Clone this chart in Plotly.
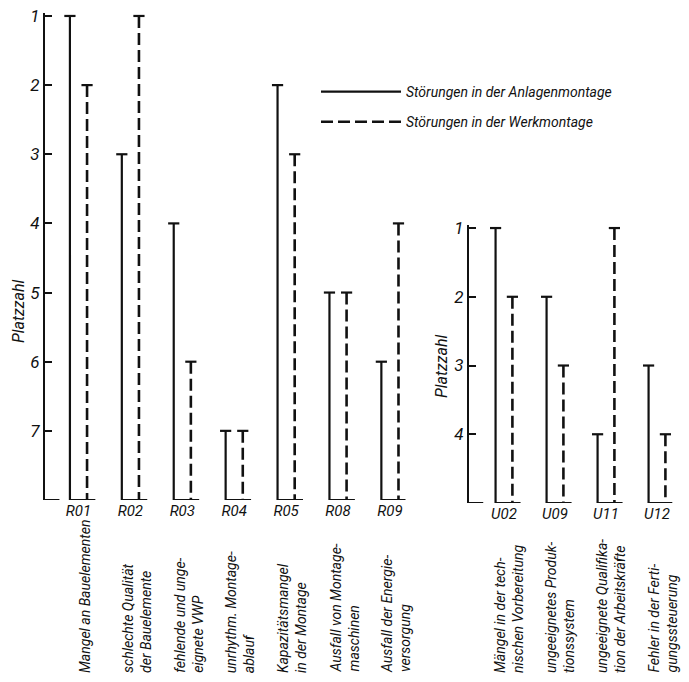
import plotly.graph_objects as go

# ---------------- data ----------------
cats_R = ["R01", "R02", "R03", "R04", "R05", "R08", "R09"]
anlagen_R = [1, 3, 4, 7, 2, 5, 6]      # Störungen in der Anlagenmontage (Platzzahl)
werk_R = [2, 1, 6, 7, 3, 5, 4]         # Störungen in der Werkmontage (Platzzahl)
labels_R = [
    "Mangel an Bauelementen",
    "schlechte Qualität<br>der Bauelemente",
    "fehlende und unge-<br>eignete VWP",
    "unrhythm. Montage-<br>ablauf",
    "Kapazitätsmangel<br>in der Montage",
    "Ausfall von Montage-<br>maschinen",
    "Ausfall der Energie-<br>versorgung",
]
ticks_R = [1, 2, 3, 4, 5, 6, 7]

cats_U = ["U02", "U09", "U11", "U12"]
anlagen_U = [1, 2, 4, 3]
werk_U = [2, 3, 1, 4]
labels_U = [
    "Mängel in der tech-<br>nischen Vorbereitung",
    "ungeeignetes Produk-<br>tionssystem",
    "ungeeignete Qualifika-<br>tion der Arbeitskräfte",
    "Fehler in der Ferti-<br>gungssteuerung",
]
ticks_U = [1, 2, 3, 4]

name_A = "Störungen in der Anlagenmontage"
name_W = "Störungen in der Werkmontage"

# ---------------- style ----------------
FONT = "Roboto, Liberation Sans, sans-serif"
INK = "#111111"
OFF = 0.165     # half distance between the pair of lines
EXT = 0.16      # extension of the base stroke beyond the dashed line
W, H = 689, 682


def py(px):
    return 1 - px / H


def px_(x):
    return x / W


fig = go.Figure()


def add_panel(cats, a_vals, w_vals, base, xa, ya, show_legend):
    xs_s, ys_s, xs_d, ys_d = [], [], [], []
    for i, (a, w) in enumerate(zip(a_vals, w_vals)):
        xs_s += [i - OFF, i - OFF, i + OFF + EXT, None]
        ys_s += [a, base, base, None]
        xs_d += [i + OFF, i + OFF, None]
        ys_d += [w, base, None]
    fig.add_trace(go.Scatter(
        x=xs_s, y=ys_s, mode="lines", name=name_A, xaxis=xa, yaxis=ya,
        line=dict(color=INK, width=2.2), cliponaxis=False,
        showlegend=show_legend, legendgroup="A", hoverinfo="skip"))
    fig.add_trace(go.Scatter(
        x=xs_d, y=ys_d, mode="lines", name=name_W, xaxis=xa, yaxis=ya,
        line=dict(color=INK, width=2.6, dash="12px,5px"), cliponaxis=False,
        showlegend=show_legend, legendgroup="W", hoverinfo="skip"))
    # T-caps on top of each line
    fig.add_trace(go.Scatter(
        x=[i - OFF for i in range(len(cats))] + [i + OFF for i in range(len(cats))],
        y=list(a_vals) + list(w_vals), mode="markers", xaxis=xa, yaxis=ya,
        marker=dict(symbol="line-ew", size=8, line=dict(color=INK, width=2.2)),
        cliponaxis=False, showlegend=False, hoverinfo="skip"))


base_R = max(ticks_R) + 1
base_U = max(ticks_U) + 1

add_panel(cats_R, anlagen_R, werk_R, base_R, "x", "y", True)
add_panel(cats_U, anlagen_U, werk_U, base_U, "x2", "y2", False)

xaxis_common = dict(showgrid=False, zeroline=False, showline=False, ticks="",
                    automargin=False,
                    tickfont=dict(family=FONT, size=15, color=INK, style="italic"))
yaxis_common = dict(showgrid=False, zeroline=False, showline=True, linecolor=INK,
                    linewidth=2, ticks="inside", ticklen=7, tickwidth=2, tickcolor=INK,
                    automargin=False,
                    tickfont=dict(family=FONT, size=17, color=INK, style="italic"))

fig.update_layout(
    width=W, height=H,
    margin=dict(l=0, r=0, t=0, b=0, autoexpand=False),
    paper_bgcolor="white", plot_bgcolor="white",
    xaxis=dict(**xaxis_common, domain=[px_(45), px_(405.5)], range=[-0.645, len(cats_R) - 0.7],
               tickvals=list(range(len(cats_R))), ticktext=cats_R, anchor="y"),
    yaxis=dict(**yaxis_common, domain=[py(500), py(12.5)], range=[base_R, 0.95],
               tickvals=ticks_R, anchor="x"),
    xaxis2=dict(**xaxis_common, domain=[px_(469), px_(672.3)], range=[-0.686, len(cats_U) - 0.7],
                tickvals=list(range(len(cats_U))), ticktext=cats_U, anchor="y2"),
    yaxis2=dict(**yaxis_common, domain=[py(503), py(224.6)], range=[base_U, 0.95],
                tickvals=ticks_U, anchor="x2"),
    legend=dict(x=px_(316), y=py(76), xanchor="left", yanchor="top",
                itemwidth=80, traceorder="grouped", tracegroupgap=9,
                font=dict(family=FONT, size=14, color=INK, style="italic"),
                bgcolor="rgba(0,0,0,0)"),
    showlegend=True,
)

# short base stubs at the bottom of each value axis
fig.add_shape(type="line", xref="x domain", yref="y", x0=0, x1=0.04, y0=base_R, y1=base_R,
              line=dict(color=INK, width=2))
fig.add_shape(type="line", xref="x2 domain", yref="y2", x0=0, x1=0.07, y0=base_U, y1=base_U,
              line=dict(color=INK, width=2))

# axis titles
fig.add_annotation(text="Platzzahl", textangle=-90, xref="paper", yref="paper",
                   x=px_(18), y=py(312), xanchor="center", yanchor="middle", showarrow=False,
                   font=dict(family=FONT, size=16, color=INK, style="italic"))
fig.add_annotation(text="Platzzahl", textangle=-90, xref="paper", yref="paper",
                   x=px_(441), y=py(367), xanchor="center", yanchor="middle", showarrow=False,
                   font=dict(family=FONT, size=16, color=INK, style="italic"))

# rotated category descriptions
for i, t in enumerate(labels_R):
    fig.add_annotation(text=t, textangle=-90, xref="x", yref="paper", x=i, y=py(675),
                       xanchor="center", yanchor="bottom", align="left", xshift=6,
                       showarrow=False,
                       font=dict(family=FONT, size=14, color=INK, style="italic"))
for i, t in enumerate(labels_U):
    fig.add_annotation(text=t, textangle=-90, xref="x2", yref="paper", x=i, y=py(675),
                       xanchor="center", yanchor="bottom", align="left", xshift=5,
                       showarrow=False,
                       font=dict(family=FONT, size=14, color=INK, style="italic"))

fig.write_html("out.html",
               config={"displayModeBar": False},
               post_script="document.body.style.margin='0';document.body.style.overflow='hidden';")
